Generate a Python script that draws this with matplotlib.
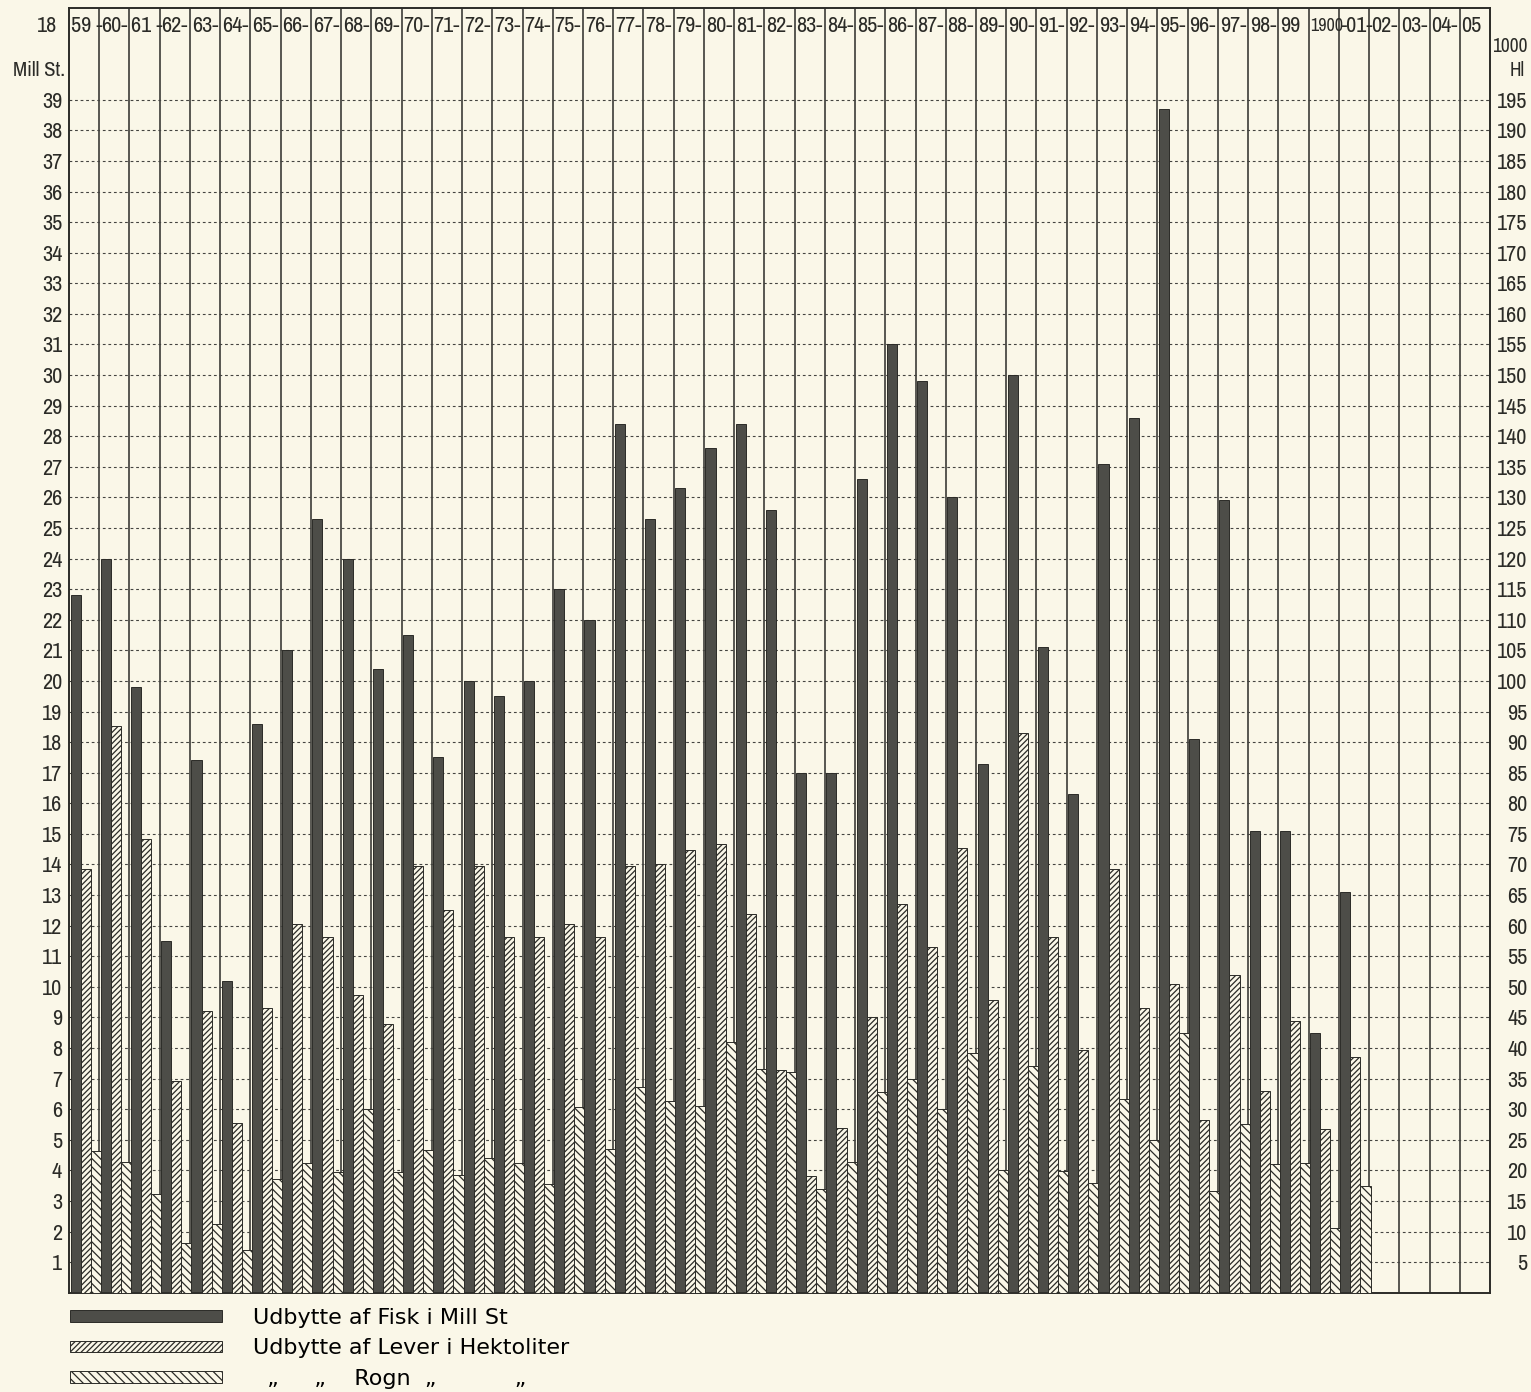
import matplotlib
matplotlib.use('Agg')
import matplotlib.pyplot as plt
import matplotlib.font_manager as fm
import numpy as np

# udbytte 1859-1901, kolonnerne 1902-05 er tomme
year_labels = ['59 -', '60-', '61 -', '62-', '63-', '64-', '65-', '66-', '67-', '68-',
               '69-', '70-', '71-', '72-', '73-', '74-', '75-', '76-', '77-', '78-',
               '79-', '80-', '81-', '82-', '83-', '84-', '85-', '86-', '87-', '88-',
               '89-', '90-', '91-', '92-', '93-', '94-', '95-', '96-', '97-', '98-',
               '99', '1900', '-01-', '02-', '03-', '04-', '05']

# Fisk, Mill St
fisk = [22.8, 24.0, 19.8, 11.5, 17.4, 10.2, 18.6, 21.0, 25.3, 24.0,
        20.4, 21.5, 17.5, 20.0, 19.5, 20.0, 23.0, 22.0, 28.4, 25.3,
        26.3, 27.6, 28.4, 25.6, 17.0, 17.0, 26.6, 31.0, 29.8, 26.0,
        17.3, 30.0, 21.1, 16.3, 27.1, 28.6, 38.7, 18.1, 25.9, 15.1,
        15.1, 8.5, 13.1]

# Lever, 1000 Hl
lever = [69.3, 92.6, 74.1, 34.6, 46.1, 27.7, 46.5, 60.3, 58.1, 48.7,
         44.0, 69.8, 62.5, 69.8, 58.1, 58.1, 60.3, 58.1, 69.7, 70.1,
         72.4, 73.4, 61.9, 36.4, 19.1, 26.9, 45.1, 63.5, 56.5, 72.7,
         47.8, 91.5, 58.1, 39.7, 69.3, 46.5, 50.5, 28.3, 52.0, 33.0,
         44.4, 26.7, 38.6]

# Rogn, 1000 Hl
rogn = [23.1, 21.4, 16.1, 8.2, 11.3, 6.9, 18.6, 21.2, 19.8, 30.0,
        19.8, 23.4, 19.3, 22.1, 21.2, 17.7, 30.4, 23.5, 33.7, 31.3,
        30.5, 41.0, 36.6, 36.1, 17.0, 21.4, 32.8, 34.9, 30.0, 39.2,
        20.1, 37.1, 19.9, 18.0, 31.6, 25.0, 42.5, 16.6, 27.5, 21.0,
        21.2, 10.6, 17.5]

paper = '#faf7e8'
ink = '#2b2b27'
dark = '#4d4d48'

# smal skrift hvis der findes en, ellers Roboto
fams = sorted({f.name for f in fm.fontManager.ttflist})
narrow = [n for n in fams if 'Narrow' in n or 'Condensed' in n]
if narrow:
    num_font = narrow[0]
    fs = 16
else:
    num_font = 'Roboto'
    fs = 13
plt.rcParams['font.family'] = [num_font, 'DejaVu Sans']
plt.rcParams['hatch.linewidth'] = 0.9

W, H = 1531, 1392
fig = plt.figure(figsize=(W / 100, H / 100), dpi=100, facecolor=paper)
ax = fig.add_axes([69 / W, 99.3 / H, 1421 / W, 1284.7 / H])
ax.set_facecolor(paper)
ncol = len(year_labels)
ax.set_xlim(0, ncol)
ax.set_ylim(0, 42)
ax2 = ax.twinx()
ax2.set_ylim(0, 210)

# kolonner og stiplede linjer
for k in range(1, ncol):
    ax.axvline(k, color=ink, lw=1.1, zorder=1)
ax.hlines(range(1, 40), 0, ncol, colors='#444440', lw=0.8,
          linestyles=(0, (2.5, 2.5)), zorder=1)

x = np.arange(len(fisk))
w = 1 / 3
b1 = ax.bar(x + 0.05, fisk, width=w, align='edge', color=dark,
            edgecolor=ink, lw=0.7, zorder=3)
b2 = ax2.bar(x + 0.05 + w, lever, width=w, align='edge', facecolor=paper,
             edgecolor=ink, hatch='//////', lw=0.7, zorder=3)
b3 = ax2.bar(x + 0.05 + 2 * w, rogn, width=w, align='edge', facecolor=paper,
             edgecolor=ink, hatch='\\\\\\\\', lw=0.7, zorder=3)

ax.set_xticks([])
ax.set_yticks(range(1, 40))
ax.tick_params(axis='y', length=0, pad=5, labelsize=fs, colors=ink)
ax2.set_yticks(range(5, 200, 5))
ax2.tick_params(axis='y', length=0, pad=27, labelsize=fs, colors=ink)
for lab in ax2.get_yticklabels():
    lab.set_horizontalalignment('right')

for a in (ax, ax2):
    for s in a.spines.values():
        s.set_color(ink)
        s.set_linewidth(1.2)

for i, lab in enumerate(year_labels):
    size = fs - 3 if lab == '1900' else fs
    ax.text(i + 0.06, 41.4, lab, ha='left', va='center', fontsize=size, color=ink)
ax.text(-0.4, 41.4, '18', ha='right', va='center', fontsize=fs, color=ink)
ax.text(-0.12, 39.95, 'Mill St.', ha='right', va='center', fontsize=fs - 1, color=ink)
ax.text(48.23, 40.75, '1000', ha='right', va='center', fontsize=fs - 2, color=ink)
ax.text(47.9, 39.95, 'Hl', ha='center', va='center', fontsize=fs - 2, color=ink)

ax.legend([b1, b2, b3],
          ['Udbytte af Fisk i Mill St',
           'Udbytte af Lever i Hektoliter',
           '  \u201e     \u201e    Rogn  \u201e           \u201e'],
          loc='upper left', bbox_to_anchor=(70 / W, (H - 1308) / H),
          bbox_transform=fig.transFigure, frameon=False, borderpad=0,
          borderaxespad=0, handlelength=6.85, handleheight=0.4,
          handletextpad=1.4, labelspacing=0.47,
          prop={'family': 'DejaVu Sans', 'size': 16})

fig.savefig('out.png', dpi=100, facecolor=paper)
